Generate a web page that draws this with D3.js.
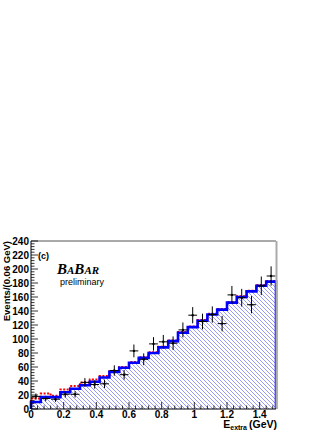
<!DOCTYPE html>
<html><head><meta charset="utf-8">
<script src="https://cdn.jsdelivr.net/npm/d3@7"></script>
<style>body{margin:0;background:#fff}svg{display:block}</style>
</head><body>
<script>
const binEdges0 = 0, binWidth = 0.06, nBins = 25;
const mcBlue = [10,17,17,24,29,34,39,45,53,59,66,73,80,88,97,109,117,126,135,142,152,160,168,176,182];
const mcRed  = [15,22,19,28,33,38,42,47,54,60,67,74,81,89,98,110,118,127,136,143,153,161,169,177,183];
const dataY  = [18,15,14,21,21,38,35,36,55,49,83,71,93,96,94,113,134,125,135,122,163,159,149,176,190];
const xTicks = [0,0.2,0.4,0.6,0.8,1,1.2,1.4];
const xTickLabels = ["0","0.2","0.4","0.6","0.8","1","1.2","1.4"];
const yTicks = [0,20,40,60,80,100,120,140,160,180,200,220,240];

const W=332,H=430;
const L=31,R=276,T=241,B=409;
const svg=d3.select("body").append("svg").attr("width",W).attr("height",H);
const x=d3.scaleLinear().domain([0,1.5]).range([L,R]);
const y=d3.scaleLinear().domain([0,240]).range([B,T]);

const defs=svg.append("defs");
const pat=defs.append("pattern").attr("id","hatch").attr("patternUnits","userSpaceOnUse").attr("width",4).attr("height",4);
pat.append("path").attr("d","M-1,-1 L5,5 M-1,3 L1,5 M3,-1 L5,1").attr("stroke","#7a7aee").attr("stroke-width",0.75);

const edges=d3.range(nBins+1).map(i=>binEdges0+i*binWidth);
function stepPts(vals){const p=[];vals.forEach((v,i)=>{p.push([edges[i],v]);p.push([edges[i+1],v]);});return p;}

const area=d3.area().x(d=>x(d[0])).y0(y(0)).y1(d=>y(d[1]));
svg.append("path").datum(stepPts(mcBlue)).attr("d",area).attr("fill","url(#hatch)").attr("stroke","none");

const line=d3.line().x(d=>x(d[0])).y(d=>y(d[1]));
function stepLine(vals){const p=[[edges[0],0]].concat(stepPts(vals));p.push([edges[nBins],0]);return p;}
svg.append("path").datum(stepLine(mcRed)).attr("d",line).attr("fill","none").attr("stroke","#ff0000").attr("stroke-width",2).attr("stroke-dasharray","2,1.5");
svg.append("path").datum(stepLine(mcBlue)).attr("d",line).attr("fill","none").attr("stroke","#0000ff").attr("stroke-width",2.6);

const g=svg.append("g");
dataY.forEach((v,i)=>{
  const cx=x(edges[i]+binWidth/2), e=Math.sqrt(v);
  g.append("line").attr("x1",x(edges[i])+0.5).attr("x2",x(edges[i+1])-0.5).attr("y1",y(v)).attr("y2",y(v)).attr("stroke","#000").attr("stroke-width",1);
  g.append("line").attr("x1",cx).attr("x2",cx).attr("y1",y(v+e)).attr("y2",y(Math.max(0,v-e))).attr("stroke","#000").attr("stroke-width",1);
  g.append("circle").attr("cx",cx).attr("cy",y(v)).attr("r",1.2).attr("fill","#000");
});

svg.append("line").attr("x1",L).attr("x2",R).attr("y1",T).attr("y2",T).attr("stroke","#555").attr("stroke-width",1);
svg.append("line").attr("x1",R+0.5).attr("x2",R+0.5).attr("y1",T).attr("y2",B).attr("stroke","#aaa").attr("stroke-width",2);

const font="'Liberation Sans',Arial,Helvetica,sans-serif";
const ax=svg.append("g");
ax.append("line").attr("x1",L).attr("x2",L).attr("y1",T).attr("y2",B).attr("stroke","#000");
ax.append("line").attr("x1",L).attr("x2",R).attr("y1",B).attr("y2",B).attr("stroke","#000");
d3.range(0,241,4).forEach(v=>{
  const major=v%20===0;
  ax.append("line").attr("x1",L).attr("x2",L+(major?7:3.5)).attr("y1",y(v)).attr("y2",y(v)).attr("stroke","#000").attr("stroke-width",0.8);
});
yTicks.forEach(v=>{
  ax.append("text").attr("x",L-2).attr("y",y(v)+3.5).attr("text-anchor","end").attr("font-family",font).attr("font-weight","bold").attr("font-size",10).text(v);
});
d3.range(0,1.5001,0.04).forEach(v=>{
  const major=Math.abs(v/0.2-Math.round(v/0.2))<1e-6;
  ax.append("line").attr("x1",x(v)).attr("x2",x(v)).attr("y1",B).attr("y2",B-(major?7:3.5)).attr("stroke","#000").attr("stroke-width",0.8);
});
xTicks.forEach((v,i)=>{
  ax.append("text").attr("x",x(v)).attr("y",B+8.5).attr("text-anchor","middle").attr("font-family",font).attr("font-weight","bold").attr("font-size",10).text(xTickLabels[i]);
});

svg.append("text").attr("transform",`translate(10,${T})rotate(-90)`).attr("text-anchor","end").attr("font-family",font).attr("font-weight","bold").attr("font-size",9.5).text("Events/(0.06 GeV)");
const xt=svg.append("text").attr("x",R+1).attr("y",428).attr("text-anchor","end").attr("font-family",font).attr("font-weight","bold").attr("font-size",10.5);
xt.append("tspan").text("E");
xt.append("tspan").attr("font-size",7).attr("dy",1.5).text("extra");
xt.append("tspan").attr("dy",-1.5).attr("dx",2).text("(GeV)");

svg.append("text").attr("x",38).attr("y",259).attr("font-family",font).attr("font-weight","bold").attr("font-size",9).text("(c)");
const bb=svg.append("text").attr("x",57).attr("y",274).attr("font-family","'Liberation Serif','Times New Roman',serif").attr("font-weight","bold").attr("font-style","italic");
bb.append("tspan").attr("font-size",15).text("B");
bb.append("tspan").attr("font-size",11).text("A");
bb.append("tspan").attr("font-size",15).text("B");
bb.append("tspan").attr("font-size",11).text("AR");
svg.append("text").attr("x",60).attr("y",285).attr("font-family",font).attr("font-size",9).text("preliminary");
</script>
</body></html>
